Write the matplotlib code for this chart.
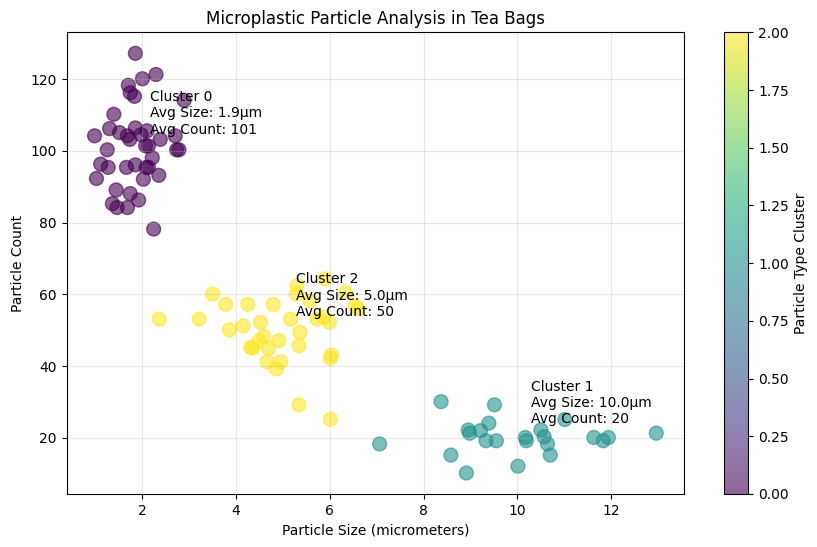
import numpy as np
from matplotlib import pyplot as plt

# cluster 0 - small particles, high count
size0 = [1.85, 2.00, 2.29, 1.70, 1.74, 1.83, 2.89, 1.39, 1.30, 0.98,
         1.51, 1.68, 1.73, 1.85, 1.97, 2.10, 2.38, 2.70, 2.07, 2.13,
         2.73, 2.78, 1.25, 2.21, 1.11, 1.27, 1.66, 1.85, 2.08, 2.13,
         2.02, 1.02, 2.35, 1.44, 1.74, 1.92, 1.36, 1.46, 1.68, 2.24]
count0 = [127.2, 120.1, 121.3, 118.3, 116.2, 115.2, 114.1, 110.2, 106.2, 104.2,
          105.1, 104.2, 103.2, 106.4, 104.5, 105.6, 103.2, 104.2, 101.4, 101.4,
          100.3, 100.3, 100.3, 98.1, 96.3, 95.4, 95.4, 96.1, 95.4, 95.4,
          92.1, 92.3, 93.2, 89.1, 88.1, 86.3, 85.3, 84.2, 84.2, 78.2]

# cluster 1 - large particles, low count
size1 = [7.06, 8.37, 9.51, 8.58, 8.91, 8.95, 8.98, 9.21, 9.39, 9.33,
         9.55, 10.01, 10.17, 10.19, 10.50, 10.57, 10.64, 10.70, 11.01, 11.63,
         11.83, 11.94, 12.96]
count1 = [18.3, 30.1, 29.2, 15.2, 10.2, 22.2, 21.3, 22.0, 24.1, 19.2,
          19.2, 12.1, 20.1, 19.2, 22.2, 20.3, 18.3, 15.2, 25.1, 20.1,
          19.2, 20.1, 21.3]

# cluster 2 - medium
size2 = [3.50, 3.78, 4.25, 4.79, 2.36, 3.21, 5.16, 3.86, 4.15, 4.52,
         4.59, 4.49, 4.91, 5.36, 4.31, 4.35, 4.69, 5.34, 4.66, 4.95,
         4.86, 6.03, 6.01, 5.34, 6.01, 5.30, 5.29, 5.90, 5.58, 5.73,
         5.99, 5.87, 6.33, 6.54, 6.60]
count2 = [60.1, 57.2, 57.2, 57.2, 53.1, 53.1, 53.1, 50.1, 51.2, 52.2,
          48.3, 47.1, 47.1, 49.4, 45.2, 45.0, 45.0, 45.7, 41.2, 41.2,
          39.2, 43.1, 42.2, 29.2, 25.2, 62.4, 60.1, 64.3, 58.2, 53.1,
          52.2, 53.6, 60.5, 56.8, 56.0]

sizes = [size0, size1, size2]
counts = [count0, count1, count2]

x = np.concatenate(sizes)
y = np.concatenate(counts)
labels = np.concatenate([np.full(len(s), i) for i, s in enumerate(sizes)])

fig = plt.figure(figsize=(8.17, 5.47), dpi=100)
ax = fig.add_axes([0.0814, 0.0969, 0.7562, 0.844])
cax = fig.add_axes([0.8865, 0.0969, 0.0294, 0.844])

sc = ax.scatter(x, y, c=labels, cmap='viridis', s=100, alpha=0.6)

for i in range(3):
    mx = np.mean(sizes[i])
    my = np.mean(counts[i])
    ax.annotate(f'Cluster {i}\nAvg Size: {mx:.1f}μm\nAvg Count: {my:.0f}',
                (mx, my), xytext=(10, 10), textcoords='offset points')

ax.set_xlabel('Particle Size (micrometers)')
ax.set_ylabel('Particle Count')
ax.set_title('Microplastic Particle Analysis in Tea Bags')
ax.grid(True, alpha=0.3)

cb = fig.colorbar(sc, cax=cax)
cb.set_label('Particle Type Cluster')

plt.savefig('out.png', dpi=100)
